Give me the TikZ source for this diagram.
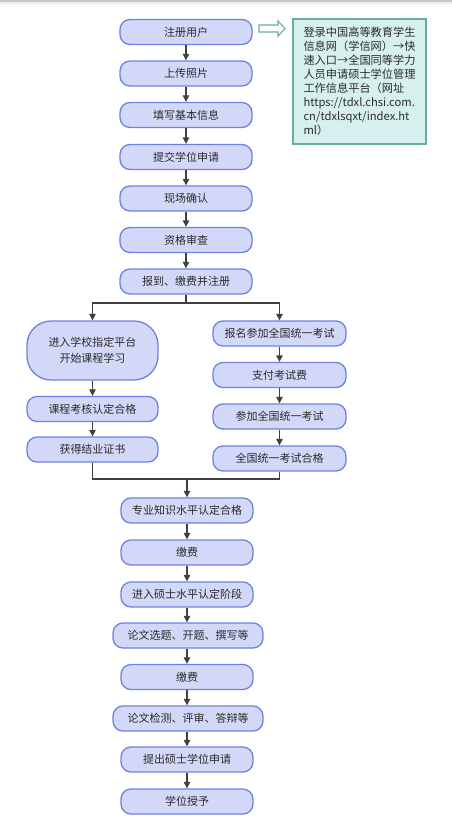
\documentclass[tikz,border=0pt]{standalone}
\usepackage{fontspec}
\newfontfamily\cjk{Noto Sans CJK SC}
\usetikzlibrary{arrows.meta}
\definecolor{boxfill}{HTML}{D3D8F8}
\definecolor{boxline}{HTML}{6B82E0}
\definecolor{notefill}{HTML}{D5F0EE}
\definecolor{noteline}{HTML}{68ACA4}
\definecolor{linegray}{HTML}{404040}
\definecolor{txt}{HTML}{2B2B2B}
\tikzset{
  stepbox/.style={draw=boxline, fill=boxfill, line width=1.3pt, rounded corners=10pt,
    minimum width=132pt, minimum height=25pt, inner sep=0pt, text=txt,
    font=\cjk\fontsize{11}{14}\selectfont},
  widebox/.style={stepbox, minimum width=150pt},
  flow/.style={draw=linegray, line width=1.1pt},
  arr/.style={flow, -{Triangle[length=6.5pt,width=6.5pt]}}
}
\begin{document}
\begin{tikzpicture}[x=1pt,y=-1pt]
    \useasboundingbox (0,0) rectangle (452,836);
    %top shadow
    \fill[gray!45] (0,0) rectangle (452,2);
    \fill[gray!15] (0,2) rectangle (452,4);

    %main column
    \node[stepbox] (reg) at (186,32) {注册用户};
    \node[stepbox] (photo) at (186,73.5) {上传照片};
    \node[stepbox] (info) at (186,115) {填写基本信息};
    \node[stepbox] (apply) at (186,157) {提交学位申请};
    \node[stepbox] (confirm) at (186,198.5) {现场确认};
    \node[stepbox] (check) at (186,240) {资格审查};
    \node[stepbox] (enrol) at (186,281.5) {报到、缴费并注册};

    %note
    \node[draw=noteline, fill=notefill, line width=1.3pt, minimum width=133pt, minimum height=125pt,
      align=left, text=txt, font=\cjk\fontsize{11.2}{14}\selectfont] (note) at (359.5,81.5)
      {登录中国高等教育学生\\信息网（学信网）→快\\速入口→全国同等学力\\人员申请硕士学位管理\\工作信息平台（网址\\https://tdxl.chsi.com.\\cn/tdxlsqxt/index.ht\\ml）};
    \draw[noteline, fill=white, line width=1.1pt] (259,25) -- (278,25) -- (278,21) -- (285,28.5)
      -- (278,36) -- (278,32) -- (259,32) -- cycle;

    %left branch
    \node[stepbox, minimum width=131pt, minimum height=59pt, rounded corners=24pt, align=center]
      (study) at (92.5,350.5) {进入学校指定平台\\[2pt]开始课程学习};
    \node[stepbox, minimum width=131pt] (course) at (92.5,409) {课程考核认定合格};
    \node[stepbox, minimum width=131pt] (cert) at (92.5,449.5) {获得结业证书};

    %right branch
    \node[stepbox, minimum width=133pt] (signup) at (279.5,333.5) {报名参加全国统一考试};
    \node[stepbox, minimum width=133pt] (fee) at (279.5,375) {支付考试费};
    \node[stepbox, minimum width=133pt] (exam) at (279.5,416.5) {参加全国统一考试};
    \node[stepbox, minimum width=133pt] (pass) at (279.5,458.5) {全国统一考试合格};

    %lower column
    \node[stepbox] (major) at (187,510.5) {专业知识水平认定合格};
    \node[stepbox] (pay1) at (187,552.5) {缴费};
    \node[stepbox] (stage) at (187,594.5) {进入硕士水平认定阶段};
    \node[widebox] (thesis) at (188,635.5) {论文选题、开题、撰写等};
    \node[stepbox] (pay2) at (187,677) {缴费};
    \node[widebox] (defense) at (188,718.5) {论文检测、评审、答辩等};
    \node[stepbox] (submit) at (187,759.5) {提出硕士学位申请};
    \node[stepbox] (grant) at (187,801.5) {学位授予};

    %arrows
    \draw[arr] (reg) -- (photo);
    \draw[arr] (photo) -- (info);
    \draw[arr] (info) -- (apply);
    \draw[arr] (apply) -- (confirm);
    \draw[arr] (confirm) -- (check);
    \draw[arr] (check) -- (enrol);

    \coordinate (split) at (186,303);
    \draw[flow] (enrol) -- (split);
    \draw[arr] (split) -| (study.north);
    \draw[arr] (split) -| (signup.north);

    \draw[arr] (study) -- (course);
    \draw[arr] (course) -- (cert);
    \draw[arr] (signup) -- (fee);
    \draw[arr] (fee) -- (exam);
    \draw[arr] (exam) -- (pass);

    \coordinate (merge) at (187,479);
    \draw[flow] (cert.south) |- (merge);
    \draw[flow] (pass.south) |- (merge);
    \draw[arr] (merge) -- (major.north);

    \draw[arr] (major) -- (pay1);
    \draw[arr] (pay1) -- (stage);
    \draw[arr] (stage) -- (stage |- thesis.north);
    \draw[arr] (thesis.south -| pay2) -- (pay2);
    \draw[arr] (pay2) -- (pay2 |- defense.north);
    \draw[arr] (defense.south -| submit) -- (submit);
    \draw[arr] (submit) -- (grant);
\end{tikzpicture}
\end{document}
